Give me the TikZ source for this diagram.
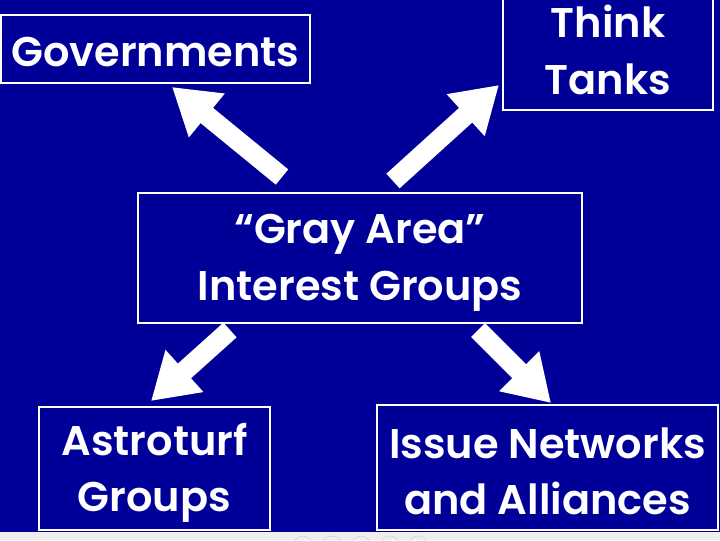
\documentclass[tikz,border=0pt]{standalone}
\usepackage{fontspec}
\setmainfont{Poppins}[BoldFont={Poppins SemiBold}]
\usetikzlibrary{arrows.meta}
\definecolor{slideblue}{RGB}{0,0,153}
\definecolor{barbg}{RGB}{238,238,238}

\begin{document}
\begin{tikzpicture}[x=0.025cm,y=-0.025cm,
    box/.style={draw=white,line width=1.6pt,inner sep=0pt},
    boxtext/.style={text=white,align=center,inner sep=0pt,
      font=\fontsize{29.5}{40}\selectfont\bfseries},
    bigarrow/.style={white,line width=14pt,-{Triangle[length=32pt,width=38pt]}}]
  \useasboundingbox (0,0) rectangle (720,540);
  \fill[slideblue] (0,0) rectangle (720,540);
  \begin{scope}
    \clip (0,0) rectangle (720,540);
    \node[box,minimum width=7.725cm,minimum height=1.7cm] (govs) at (155.5,49) {};
    \node[box,minimum width=5.25cm,minimum height=3cm] (tanks) at (608,50) {};
    \node[box,minimum width=11.1cm,minimum height=3.25cm] (grayarea) at (360,258) {};
    \node[box,minimum width=5.775cm,minimum height=3.075cm] (astro) at (154.5,468.5) {};
    \node[box,minimum width=8.525cm,minimum height=3.125cm] (issue) at (547.5,467.5) {};
    \node[boxtext] (govs text) at ([yshift=-2pt]govs) {Governments};
    \node[boxtext] (tanks text) at (tanks) {Think\\Tanks};
    \node[boxtext] (grayarea text) at ([yshift=-3.5pt]grayarea) {``Gray Area''\\Interest Groups};
    \node[boxtext] (astro text) at ([yshift=-3pt]astro) {Astroturf\\Groups};
    \node[boxtext] (issue text) at ([yshift=-2.5pt]issue) {Issue Networks\\and Alliances};
    % arrow ends
    \coordinate (govs tail) at (282,177);
    \coordinate (govs tip) at (172,87);
    \coordinate (tanks tail) at (393,181);
    \coordinate (tanks tip) at (499,85);
    \coordinate (astro tail) at (230,330);
    \coordinate (astro tip) at (151,401);
    \coordinate (issue tail) at (478,330);
    \coordinate (issue tip) at (551,403);
    \draw[bigarrow] (govs tail) -- (govs tip);
    \draw[bigarrow] (tanks tail) -- (tanks tip);
    \draw[bigarrow] (astro tail) -- (astro tip);
    \draw[bigarrow] (issue tail) -- (issue tip);
    % viewer bar
    \fill[barbg] (0,532) rectangle (720,540);
    \foreach \x in {303,332,361,390,418}
      \draw[gray!35] (\x,546) circle (10);
  \end{scope}
\end{tikzpicture}
\end{document}
